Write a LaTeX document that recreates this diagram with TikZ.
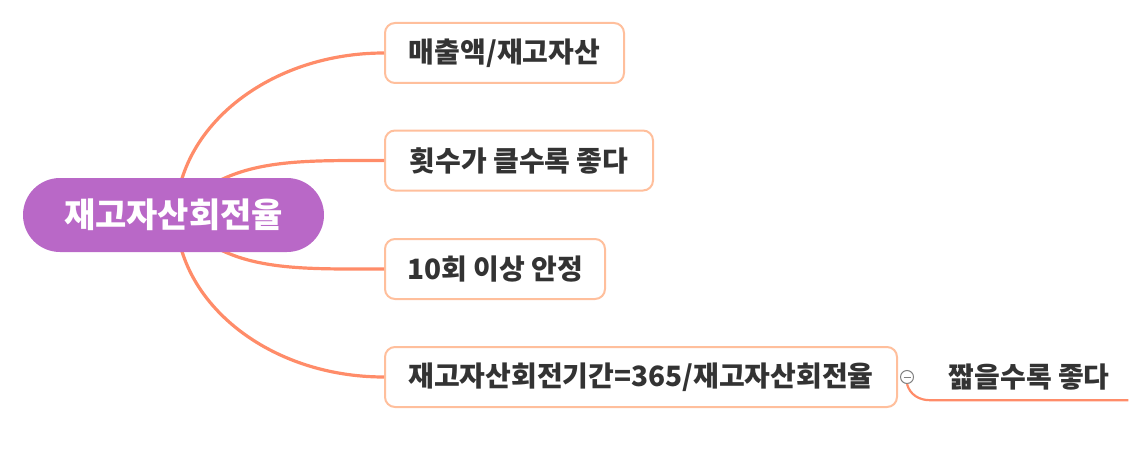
\documentclass[tikz,border=0pt]{standalone}
\usepackage{fontspec}
\setmainfont{Noto Sans CJK KR}
\definecolor{rootpurple}{HTML}{B968C7}
\definecolor{boxpeach}{HTML}{FFBF9C}
\definecolor{linecoral}{HTML}{FF8C69}
\definecolor{textgray}{HTML}{333333}
\begin{document}
\begin{tikzpicture}[x=1pt,y=1pt,
  rootbox/.style={fill=rootpurple,text=white,rounded corners=37pt,minimum width=301pt,minimum height=74pt,inner sep=0pt,font=\fontsize{34}{38}\selectfont\bfseries},
  topic/.style={draw=boxpeach,line width=2pt,fill=white,rounded corners=10pt,minimum height=60pt,inner sep=0pt,anchor=west,text=textgray,font=\fontsize{28}{32}\selectfont\bfseries},
  branch/.style={draw=linecoral,line width=3.2pt},
  twig/.style={draw=linecoral,line width=2.2pt}]
\useasboundingbox (0,0) rectangle (1139,448);
%\draw[help lines,step=50] (0,0) grid (1139,448);

\coordinate (rc) at (176,233);

\node[topic,minimum width=239pt] (sales) at (384,395) {매출액/재고자산};
\node[topic,minimum width=268pt] (often) at (384,287.5) {횟수가 클수록 좋다};
\node[topic,minimum width=220pt] (stable) at (384,179) {10회 이상 안정};
\node[topic,minimum width=512pt] (period) at (384,71) {재고자산회전기간=365/재고자산회전율};

\draw[branch] (rc) .. controls (178,322) and (270,395) .. (sales.west);
\draw[branch] (rc) .. controls (225,290) and (290,287.5) .. (often.west);
\draw[branch] (rc) .. controls (225,176) and (290,179) .. (stable.west);
\draw[branch] (rc) .. controls (178,144) and (270,71) .. (period.west);

\node[rootbox] (root) at (173.5,233) {재고자산회전율};

% fold mark and leaf
\node[circle,draw=gray,fill=white,line width=1pt,minimum size=13pt,inner sep=0pt] (fold) at (907,71) {};
\draw[gray,line width=1pt] ([xshift=-3.5pt]fold.center) -- ([xshift=3.5pt]fold.center);
\node[anchor=west,minimum width=198pt,minimum height=46pt,inner sep=0pt,text=textgray,font=\fontsize{28}{32}\selectfont\bfseries] (short) at (930,71) {짧을수록 좋다};
\draw[twig] (fold.south) to[out=-75,in=180] (short.south west) -- (short.south east);

\end{tikzpicture}
\end{document}
